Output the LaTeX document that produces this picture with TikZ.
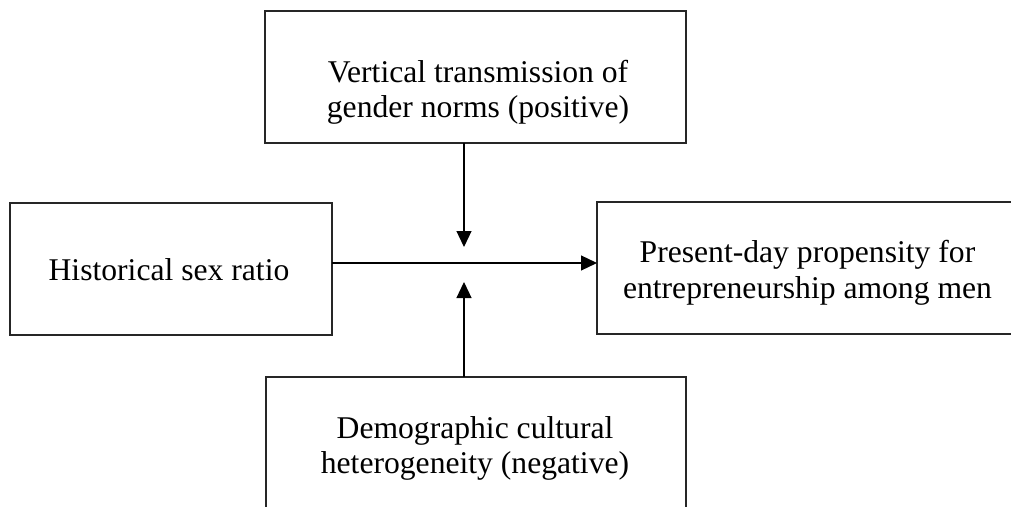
\documentclass[tikz,border=0pt]{standalone}
\usepackage{fontspec}
\setmainfont{Liberation Serif}
\usetikzlibrary{arrows.meta}

\begin{document}
\begin{tikzpicture}[
    box/.style={rectangle, draw=black!85, line width=0.7pt, inner sep=0pt, outer sep=0pt, minimum height=2.64cm},
    txt/.style={align=center, anchor=base, font=\fontsize{18}{20.2}\selectfont},
    link/.style={line width=0.7pt, -{Triangle[length=0.32cm, width=0.30cm]}}
]
            \useasboundingbox (0, 0) rectangle (20.22, 10.12);
            %% Anchors
            \node[box, minimum width=8.42cm] (vert) at (9.51, 8.58) {};
            \node[box, minimum width=6.44cm] (hsr) at (3.42, 4.74) {};
            \node[box, minimum width=8.36cm] (pres) at (16.12, 4.76) {};
            \node[box, minimum width=8.40cm] (demo) at (9.52, 1.26) {};
            \coordinate (mid) at (9.28, 4.86);
            \coordinate (vtip) at (9.28, 5.18);
            \coordinate (dtip) at (9.28, 4.48);
            %% Text Nodes
            \node[txt] at (9.56, 7.77) (verttxt) {Vertical transmission of\\gender norms (positive)};
            \node[txt] at (3.38, 4.506) (hsrtxt) {Historical sex ratio};
            \node[txt] at (16.15, 4.154) (prestxt) {Present-day propensity for\\entrepreneurship among men};
            \node[txt] at (9.50, 0.65) (demotxt) {Demographic cultural\\heterogeneity (negative)};
            %% Arrows
            \draw[link] (hsr.east |- mid) -- (pres.west |- mid);
            \draw[link] (vert.south -| vtip) -- (vtip);
            \draw[link] (demo.north -| dtip) -- (dtip);
\end{tikzpicture}
\end{document}
